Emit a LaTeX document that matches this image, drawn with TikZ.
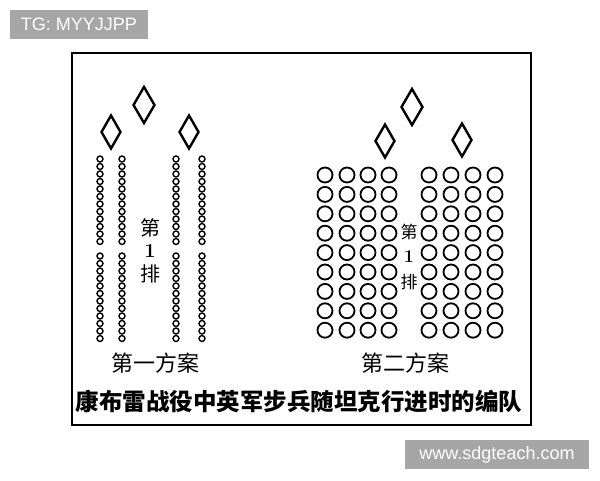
\documentclass[tikz,border=0pt]{standalone}
\usepackage{fontspec}
\setsansfont{Liberation Sans}
\newfontfamily\cjk{Noto Sans CJK SC}
\usetikzlibrary{positioning}
\usetikzlibrary{shapes.geometric}
\definecolor{stampgray}{HTML}{A6A6A6}
\tikzset{
    tank/.style = {diamond,draw,line width=2.4pt,inner sep=0pt,minimum width=20pt,minimum height=34pt},
    rifleman/.style = {circle,draw,line width=1.4pt,inner sep=0pt,minimum size=6pt},
    section/.style = {circle,draw,line width=1.8pt,inner sep=0pt,minimum size=15pt},
    rank/.style = {inner sep=0pt,font=\cjk\fontsize{#1}{#1}\selectfont},
    caption/.style = {inner sep=0pt,font=\cjk\fontsize{22}{22}\selectfont},
    stamp/.style = {fill=stampgray,text=white,inner sep=0pt,font=\sffamily\fontsize{18}{18}\selectfont}}

\begin{document}
\begin{tikzpicture}[x=1pt,y=-1pt]
        \useasboundingbox[fill=white] (0,0) rectangle (600,480);
        \node[stamp,minimum width=138pt,minimum height=29pt] (TG) at (79,24.5) {TG: MYYJJPP};
        \node[stamp,minimum width=184pt,minimum height=29pt] (WWW) at (497,454.5) {www.sdgteach.com};
        \draw[line width=1.8pt] (72,53) rectangle (531,425);
        % first scheme
        \node[tank] (T1a) at (111,132) {};
        \node[tank,minimum height=37pt,minimum width=22pt] (T1b) at (144,105) {};
        \node[tank] (T1c) at (189,132) {};
        \foreach \c/\x in {1/100,2/122,3/176,4/202}
          \foreach \r in {0,...,11} {
            \node[rifleman] (A\c-\r) at (\x,159+7.5*\r) {};
            \node[rifleman] (B\c-\r) at (\x,256+7.5*\r) {};
          }
        \node[rank=20] (R1a) at (150,228) {第};
        \node[font=\bfseries\fontsize{20}{20}\selectfont,inner sep=0pt] (R1b) at (150,251) {1};
        \node[rank=20] (R1c) at (150,274) {排};
        \node[caption] (S1) at (155,363) {第一方案};
        % second scheme
        \node[tank] (T2a) at (385,141) {};
        \node[tank,minimum height=37pt,minimum width=22pt] (T2b) at (412,107) {};
        \node[tank] (T2c) at (462,140) {};
        \foreach \c/\x in {1/325,2/347,3/368,4/389,5/429,6/451,7/473,8/495}
          \foreach \r in {0,...,8}
            \node[section] (C\c-\r) at (\x,175+19.4*\r) {};
        \node[rank=17] (R2a) at (409,232) {第};
        \node[font=\bfseries\fontsize{18}{18}\selectfont,inner sep=0pt] (R2b) at (409,257) {1};
        \node[rank=17] (R2c) at (409,282) {排};
        \node[caption] (S2) at (405,363) {第二方案};
        \node[caption,font=\cjk\bfseries\fontsize{23.5}{23.5}\selectfont] (TITLE) at (299,401) {康布雷战役中英军步兵随坦克行进时的编队};
\end{tikzpicture}
\end{document}
